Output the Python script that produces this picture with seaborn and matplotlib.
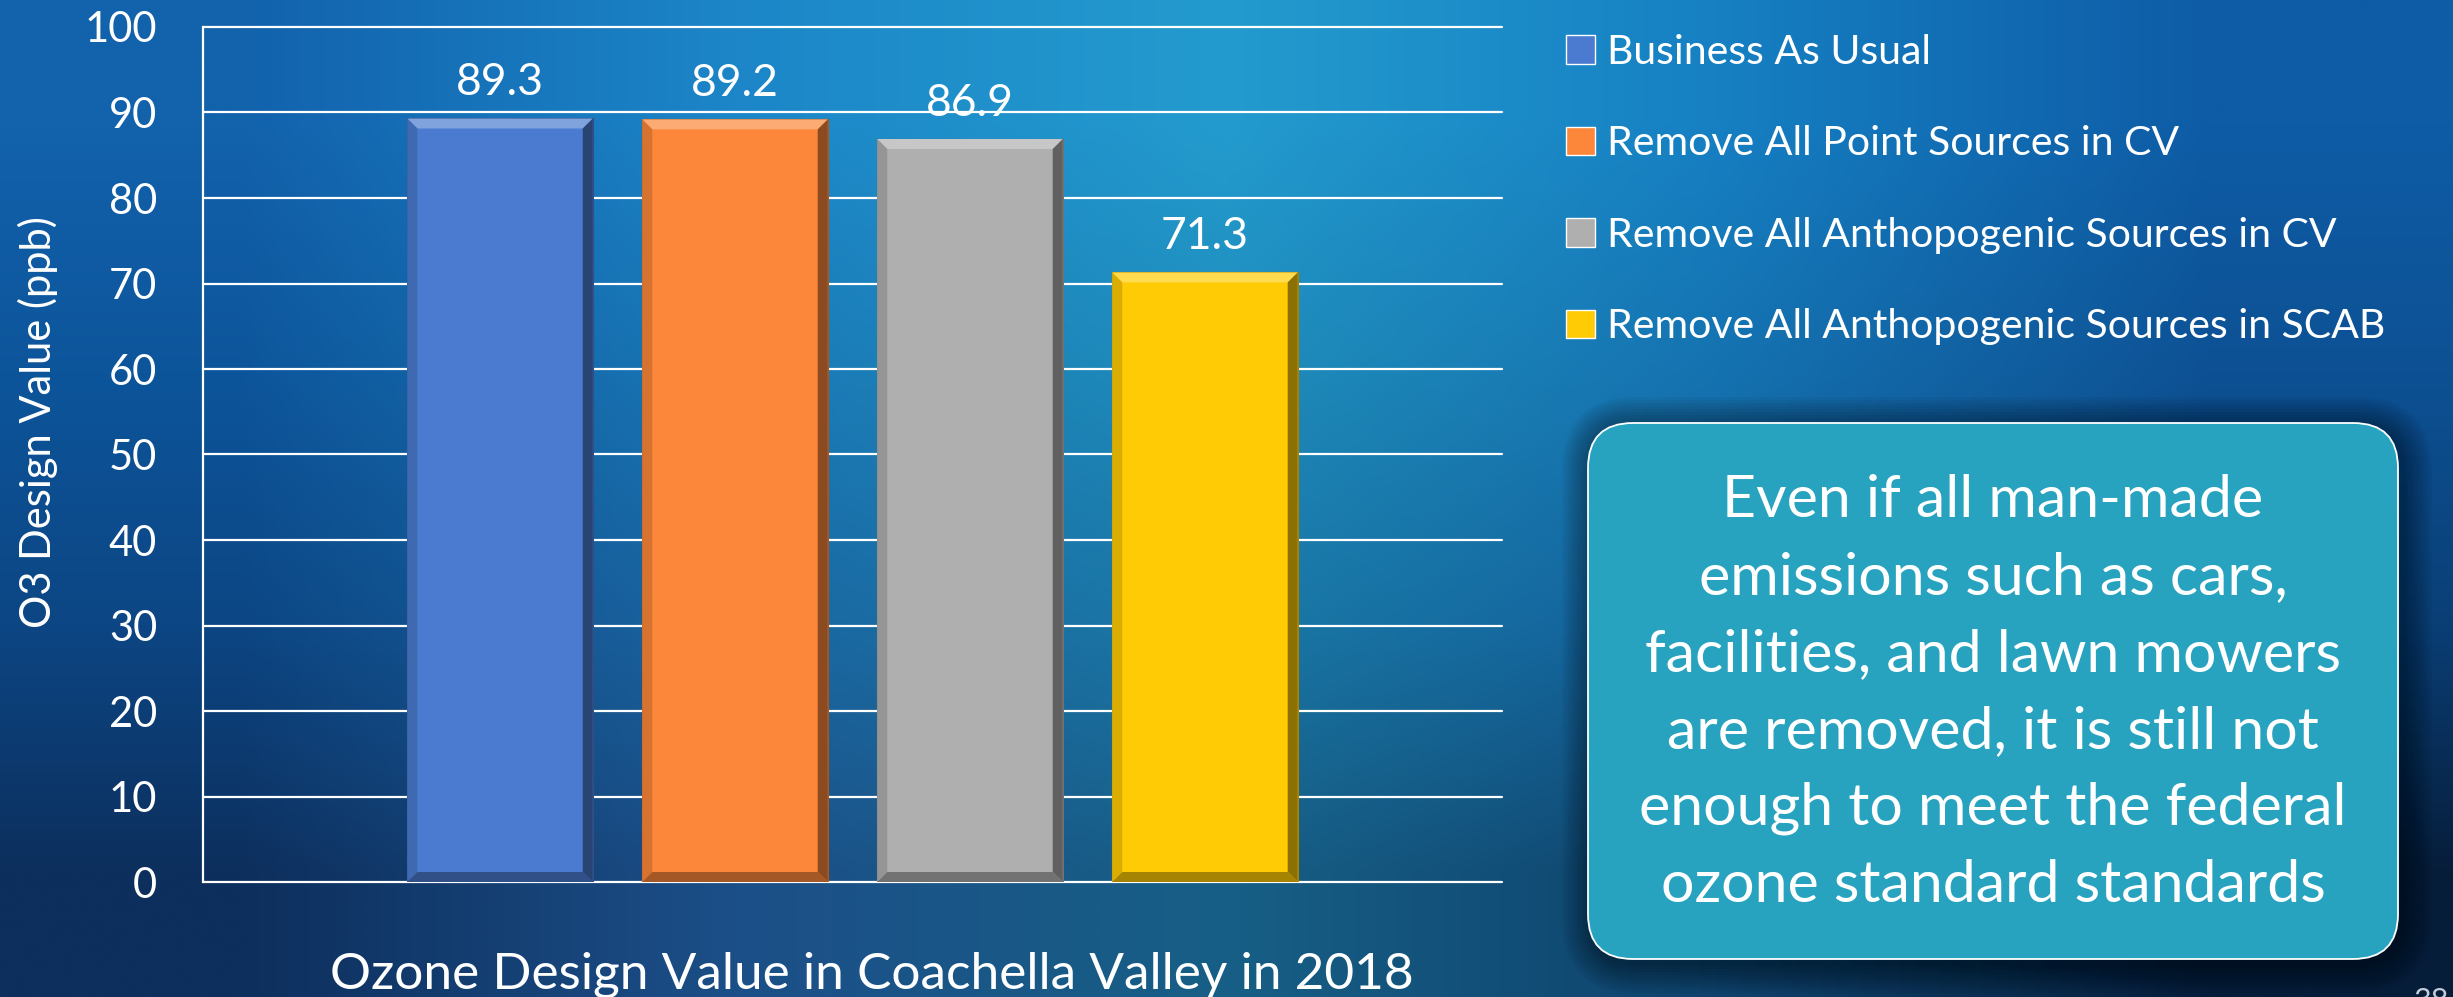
import matplotlib
matplotlib.use("Agg")
import matplotlib.pyplot as plt
import matplotlib.transforms as mtransforms
from matplotlib.colors import to_rgb
from matplotlib.patches import FancyBboxPatch, Polygon
import numpy as np
import pandas as pd
import seaborn as sns

# Data
scenarios = ['Business As Usual',
             'Remove All Point Sources in CV',
             'Remove All Anthopogenic Sources in CV',
             'Remove All Anthopogenic Sources in SCAB']
design_values = [89.3, 89.2, 86.9, 71.3]
bar_colors = ['#4A7BD0', '#FC873A', '#AFAFAF', '#FFCB05']
y_ticks = [0, 10, 20, 30, 40, 50, 60, 70, 80, 90, 100]
x_title = 'Ozone Design Value in Coachella Valley in 2018'
y_title = 'O3 Design Value (ppb)'
note = ('Even if all man-made\nemissions such as cars,\nfacilities, and lawn mowers\n'
        'are removed, it is still not\nenough to meet the federal\nozone standard standards')
page_no = '38'

# slide background colours (rows top -> bottom, cols left -> right)
bg_rows = [['#1262AC', '#1C86C8', '#239BCE', '#1680C3', '#0E5CA6'],
           ['#0D559B', '#1A78B6', '#1F8DBB', '#1572B0', '#0D5194'],
           ['#0C4684', '#1B66A2', '#1A79A6', '#12609C', '#0A3F76'],
           ['#0D2F5D', '#1C4F88', '#175F86', '#0E426C', '#061D3A']]

W, H = 2453, 997
sns.set_theme(style='white')
plt.rcParams['font.family'] = ['Lato', 'DejaVu Sans']

fig = plt.figure(figsize=(W / 100, H / 100), dpi=100)

# background gradient
bg = fig.add_axes([0, 0, 1, 1], zorder=-10)
grid = np.array([[to_rgb(c) for c in row] for row in bg_rows])
bg.imshow(grid, aspect='auto', interpolation='bilinear', extent=[0, 1, 0, 1])
bg.set_axis_off()

# bar chart
ax = fig.add_axes([203 / W, (H - 882) / H, 1299 / W, 855 / H])
ax.set_facecolor('none')
df = pd.DataFrame({'scenario': scenarios, 'value': design_values})
sns.barplot(data=df, x='scenario', y='value', hue='scenario', palette=bar_colors,
            dodge=False, width=0.79, saturation=1, ax=ax, legend=True)

ax.set_xlim(-1.264, len(scenarios) - 1 + 1.264)
ax.set_ylim(0, 100)
ax.set_yticks(y_ticks)
ax.set_xticks([])
ax.set_axisbelow(True)
ax.yaxis.grid(True, color='white', lw=1.6)
for gl in ax.get_ygridlines():
    gl.set_clip_on(False)
for side in ['top', 'right', 'bottom']:
    ax.spines[side].set_visible(False)
ax.spines['left'].set_color('white')
ax.spines['left'].set_linewidth(1.6)
ax.tick_params(axis='y', length=0, pad=33, labelsize=30, labelcolor='white')

# bevel on each bar
bx, by = 0.043, 1.17


def shade(c, f):
    r = np.array(to_rgb(c))
    return tuple(r * (1 - f)) if f > 0 else tuple(r + (1 - r) * (-f))


for cont, col in zip(ax.containers, bar_colors):
    for p in cont:
        x0, w, h = p.get_x(), p.get_width(), p.get_height()
        x1 = x0 + w
        p.set_edgecolor(shade(col, 0.35))
        p.set_linewidth(0.8)
        polys = [([(x0, h), (x1, h), (x1 - bx, h - by), (x0 + bx, h - by)], shade(col, -0.3)),
                 ([(x1, h), (x1, 0), (x1 - bx, by), (x1 - bx, h - by)], shade(col, 0.45)),
                 ([(x0, h), (x0 + bx, h - by), (x0 + bx, by), (x0, 0)], shade(col, 0.15)),
                 ([(x0, 0), (x1, 0), (x1 - bx, by), (x0 + bx, by)], shade(col, 0.35))]
        for xy, fc in polys:
            ax.add_patch(Polygon(xy, closed=True, facecolor=fc, edgecolor='none', zorder=2))
    ax.bar_label(cont, fmt='%.1f', padding=11, color='white', fontsize=32)

ax.set_ylabel(y_title, color='white', fontsize=30)
ax.yaxis.set_label_coords((58 - 203) / 1299, (882 - 422) / 855)
ax.set_xlabel(x_title, color='white', fontsize=37)
ax.xaxis.set_label_coords((872 - 203) / 1299, (882 - 988) / 855)
ax.xaxis.label.set_va('baseline')

sns.move_legend(ax, 'upper left', bbox_to_anchor=(1566 / W, 1 - 34 / H),
                bbox_transform=fig.transFigure, frameon=False, title=None,
                fontsize=29.5, labelcolor='white', handlelength=0.7, handleheight=0.7,
                handletextpad=0.3, labelspacing=1.33, borderpad=0, borderaxespad=0)

# note box with soft shadow
px = mtransforms.IdentityTransform()
bx0, by0, bw, bh = 1588, H - 959, 810, 536
for i in range(10, 0, -1):
    g = i * 3
    fig.add_artist(FancyBboxPatch((bx0 - g + 4, by0 - g - 4), bw + 2 * g, bh + 2 * g,
                                  boxstyle=f'round,pad=0,rounding_size={45 + g}',
                                  transform=px, facecolor='black', edgecolor='none',
                                  alpha=0.045, zorder=1))
fig.add_artist(FancyBboxPatch((bx0, by0), bw, bh, boxstyle='round,pad=0,rounding_size=45',
                              transform=px, facecolor='#27A3BF', edgecolor='white',
                              lw=1.3, zorder=2))
fig.text(1993 / W, 1 - 693 / H, note, ha='center', va='center', fontsize=42.5,
         color='white', linespacing=1.56, multialignment='center', zorder=3)

fig.text(2431 / W, 10 / H, page_no, ha='center', va='top', fontsize=22, color='#C3CCD8')

fig.savefig('out.png', dpi=100)
